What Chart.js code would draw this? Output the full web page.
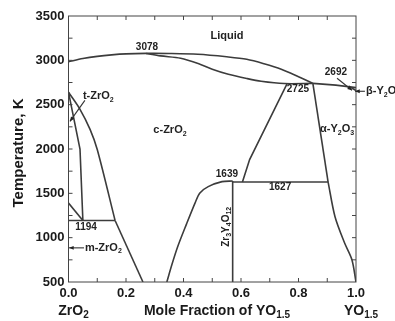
<!DOCTYPE html>
<html>
<head>
<meta charset="utf-8">
<script src="https://cdn.jsdelivr.net/npm/chart.js@4.4.0/dist/chart.umd.min.js"></script>
<style>
  html, body { margin: 0; padding: 0; background: #fff; }
</style>
</head>
<body>
<canvas id="phaseChart" width="395" height="321"></canvas>
<script>
// phase boundaries, [mole fraction YO1.5, temperature K]
const liquidus = [[0, 2985], [0.05, 3020], [0.1, 3045], [0.15, 3062], [0.2, 3073], [0.27, 3078], [0.35, 3077], [0.45, 3068], [0.55, 3040], [0.62, 3012], [0.68, 2962], [0.74, 2900], [0.8, 2815], [0.85, 2740]];
const solidus = [[0.27, 3078], [0.32, 3050], [0.39, 3024], [0.457, 2957], [0.5, 2900], [0.556, 2843], [0.62, 2795], [0.67, 2764], [0.75, 2738], [0.85, 2740]];
const liquidY = [[0.85, 2740], [0.93, 2720], [1.0, 2692]];
const betaLine = [[0.975, 2708], [1.0, 2660]];
const cubicRight = [[0.76, 2735], [0.63, 1881], [0.605, 1627]];
const alphaLeft = [[0.85, 2740], [0.903, 1627]];
const alphaLow = [[0.903, 1627], [0.927, 1236], [0.96, 942], [0.986, 749], [1.0, 500]];
const line1627 = [[0.571, 1627], [0.903, 1627]];
const zr3y4o12 = [[0.571, 500], [0.571, 1639]];
const cubicDome = [[0.342, 500], [0.36, 700], [0.38, 900], [0.41, 1150], [0.44, 1390], [0.457, 1505], [0.486, 1576], [0.534, 1632], [0.571, 1639]];
const cubicLeft = [[0, 2640], [0.04, 2448], [0.075, 2221], [0.1, 1994], [0.162, 1194]];
const tetraLeft = [[0, 2640], [0.04, 2000], [0.05, 1194]];
const monoLine = [[0, 1390], [0.05, 1194]];
const line1194 = [[0, 1194], [0.162, 1194]];
const cubicLow = [[0.162, 1194], [0.259, 500]];

const xTicks = [0, 0.2, 0.4, 0.6, 0.8, 1.0];
const yTicks = [500, 1000, 1500, 2000, 2500, 3000, 3500];

// text labels: [parts, x, T, align, size]
const labels = [
  [[['Liquid', 0]], 0.551, 3274, 'center'],
  [[['3078', 0]], 0.273, 3149, 'center', 10],
  [[['c-ZrO', 0], ['2', 1]], 0.353, 2209, 'center'],
  [[['t-ZrO', 0], ['2', 1]], 0.05, 2594, 'left'],
  [[['2692', 0]], 0.93, 2866, 'center', 10],
  [[['\u03b2-Y', 0], ['2', 1], ['O', 0], ['3', 1]], 1.035, 2651, 'left'],
  [[['2725', 0]], 0.798, 2674, 'center', 10],
  [[['\u03b1-Y', 0], ['2', 1], ['O', 0], ['3', 1]], 0.934, 2221, 'center'],
  [[['1639', 0]], 0.551, 1711, 'center', 10],
  [[['1627', 0]], 0.736, 1564, 'center', 10],
  [[['1194', 0]], 0.061, 1123, 'center', 10],
  [[['m-ZrO', 0], ['2', 1]], 0.057, 885, 'left']
];
const arrows = [
  [0.057, 2549, 0.005, 2311],
  [0.054, 885, 0.002, 885],
  [0.934, 2798, 0.986, 2662],
  [1.031, 2651, 0.997, 2651]
];

const boundaries = [liquidus, solidus, liquidY, betaLine, cubicRight, alphaLeft, alphaLow, line1627,
  zr3y4o12, cubicDome, cubicLeft, tetraLeft, monoLine, line1194, cubicLow];

function drawRich(ctx, parts, x, y, size, align) {
  const big = 'bold ' + size + 'px "Liberation Sans", Arial, sans-serif';
  const small = 'bold ' + Math.round(size * 0.68) + 'px "Liberation Sans", Arial, sans-serif';
  let w = 0;
  parts.forEach(([t, sub]) => { ctx.font = sub ? small : big; w += ctx.measureText(t).width; });
  let cx = align === 'center' ? x - w / 2 : x;
  ctx.textAlign = 'left';
  ctx.textBaseline = 'middle';
  parts.forEach(([t, sub]) => {
    ctx.font = sub ? small : big;
    ctx.fillText(t, cx, sub ? y + size * 0.3 : y);
    cx += ctx.measureText(t).width;
  });
}

const decorations = {
  id: 'decorations',
  afterDraw(chart) {
    const ctx = chart.ctx;
    const a = chart.chartArea;
    const xs = chart.scales.x, ys = chart.scales.y;
    ctx.save();
    ctx.strokeStyle = '#444';
    ctx.lineWidth = 1;
    ctx.strokeRect(a.left, a.top, a.right - a.left, a.bottom - a.top);
    // inward ticks
    ctx.beginPath();
    for (let i = 1; i < 10; i++) {
      const px = xs.getPixelForValue(i / 10);
      ctx.moveTo(px, a.bottom); ctx.lineTo(px, a.bottom - 4);
      ctx.moveTo(px, a.top); ctx.lineTo(px, a.top + 4);
    }
    for (let t = 750; t < 3500; t += 250) {
      const py = ys.getPixelForValue(t);
      ctx.moveTo(a.left, py); ctx.lineTo(a.left + 4, py);
      ctx.moveTo(a.right, py); ctx.lineTo(a.right - 4, py);
    }
    ctx.stroke();

    ctx.fillStyle = '#222';
    labels.forEach(([parts, x, t, align, size]) => {
      drawRich(ctx, parts, xs.getPixelForValue(x), ys.getPixelForValue(t), size || 11, align);
    });

    // arrows
    ctx.strokeStyle = '#333';
    ctx.lineWidth = 1.1;
    arrows.forEach(([x1, t1, x2, t2]) => {
      const p1 = [xs.getPixelForValue(x1), ys.getPixelForValue(t1)];
      const p2 = [xs.getPixelForValue(x2), ys.getPixelForValue(t2)];
      const ang = Math.atan2(p2[1] - p1[1], p2[0] - p1[0]);
      ctx.beginPath();
      ctx.moveTo(p1[0], p1[1]); ctx.lineTo(p2[0], p2[1]);
      ctx.stroke();
      ctx.beginPath();
      ctx.moveTo(p2[0], p2[1]);
      ctx.lineTo(p2[0] - 5 * Math.cos(ang - 0.4), p2[1] - 5 * Math.sin(ang - 0.4));
      ctx.lineTo(p2[0] - 5 * Math.cos(ang + 0.4), p2[1] - 5 * Math.sin(ang + 0.4));
      ctx.closePath();
      ctx.fill();
    });

    // rotated compound label
    ctx.save();
    ctx.translate(xs.getPixelForValue(0.548), ys.getPixelForValue(1123));
    ctx.rotate(-Math.PI / 2);
    drawRich(ctx, [['Zr', 0], ['3', 1], ['Y', 0], ['4', 1], ['O', 0], ['12', 1]], 0, 0, 10, 'center');
    ctx.restore();

    // axis titles
    ctx.fillStyle = '#1a1a1a';
    ctx.save();
    ctx.translate(19, (a.top + a.bottom) / 2 + 4);
    ctx.rotate(-Math.PI / 2);
    drawRich(ctx, [['Temperature, K', 0]], 0, 0, 15, 'center');
    ctx.restore();
    drawRich(ctx, [['Mole Fraction of YO', 0], ['1.5', 1]], 217, 311, 14, 'center');
    drawRich(ctx, [['ZrO', 0], ['2', 1]], xs.getPixelForValue(0) + 5, 311, 14, 'center');
    drawRich(ctx, [['YO', 0], ['1.5', 1]], xs.getPixelForValue(1) + 5, 311, 14, 'center');
    ctx.restore();
  }
};

new Chart(document.getElementById('phaseChart').getContext('2d'), {
  type: 'scatter',
  data: {
    datasets: boundaries.map(pts => ({
      data: pts.map(([x, y]) => ({ x, y })),
      showLine: true,
      borderColor: '#3c3c3c',
      borderWidth: 1.6,
      pointRadius: 0,
      tension: pts.length > 3 ? 0.3 : 0
    }))
  },
  options: {
    responsive: false,
    animation: false,
    layout: { padding: { left: 0, right: 39, top: 16, bottom: 0 } },
    plugins: { legend: { display: false }, tooltip: { enabled: false } },
    scales: {
      x: {
        type: 'linear', min: 0, max: 1,
        afterBuildTicks: s => { s.ticks = xTicks.map(v => ({ value: v })); },
        afterFit: s => { s.height = 39; },
        grid: { display: false, drawTicks: false },
        border: { display: false },
        ticks: {
          padding: 4, color: '#1a1a1a', maxRotation: 0, autoSkip: false,
          font: { family: '"Liberation Sans", Arial, sans-serif', size: 13, weight: 'bold' },
          callback: v => v.toFixed(1)
        }
      },
      y: {
        type: 'linear', min: 500, max: 3500,
        afterBuildTicks: s => { s.ticks = yTicks.map(v => ({ value: v })); },
        afterFit: s => { s.width = 68.5; },
        grid: { display: false, drawTicks: false },
        border: { display: false },
        ticks: {
          padding: 4, color: '#1a1a1a',
          font: { family: '"Liberation Sans", Arial, sans-serif', size: 13, weight: 'bold' },
          callback: v => String(v)
        }
      }
    }
  },
  plugins: [decorations]
});
</script>
</body>
</html>
